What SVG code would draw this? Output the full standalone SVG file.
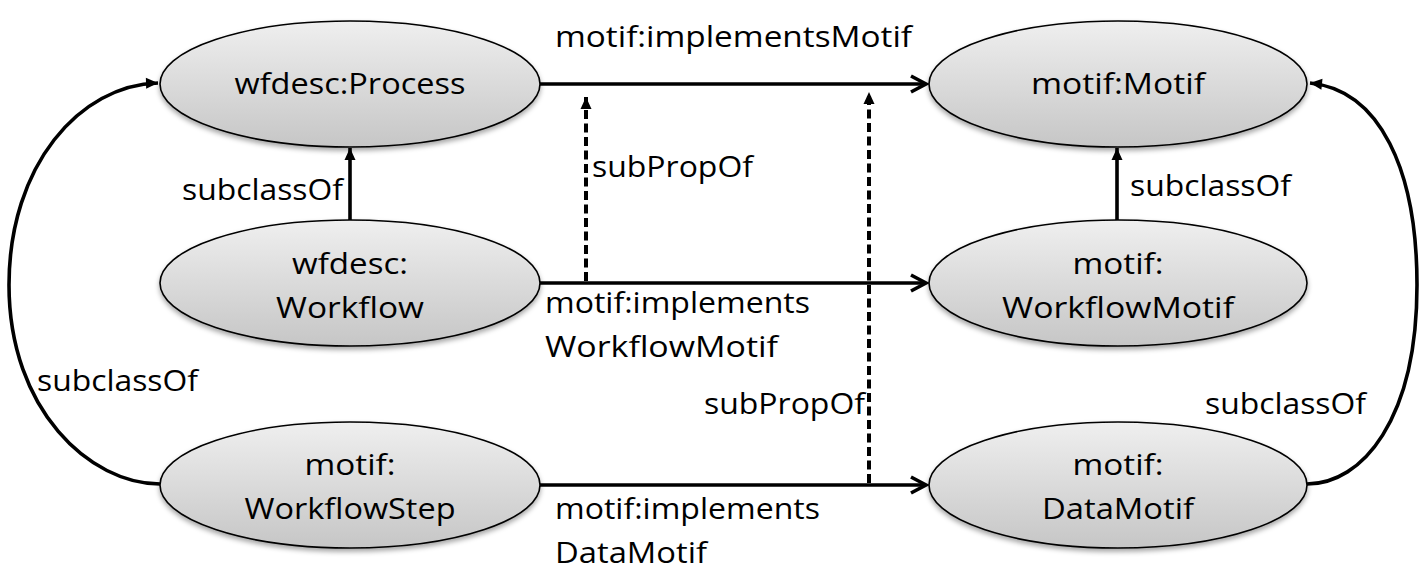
<svg xmlns="http://www.w3.org/2000/svg" width="1424" height="585" viewBox="0 0 1424 585">
<style>
.node ellipse{fill:url(#g);stroke:#000;stroke-width:1.6;filter:url(#sh)}
text{font-family:"Open Sans","Liberation Sans",sans-serif;font-size:30px;fill:#000}
.c{text-anchor:middle}
.e{fill:none;stroke:#000;stroke-width:3.6}
.d{stroke-dasharray:9 4.5;stroke-width:4}
</style>
<defs>
<linearGradient id="g" x1="0" y1="0" x2="0" y2="1">
<stop offset="0" stop-color="#efefef"/>
<stop offset="1" stop-color="#c6c6c6"/>
</linearGradient>
<filter id="sh" x="-10%" y="-10%" width="120%" height="130%">
<feDropShadow dx="0" dy="3" stdDeviation="2.5" flood-color="#000" flood-opacity="0.35"/>
</filter>
<marker id="open" markerUnits="userSpaceOnUse" viewBox="-20 -12 24 24" markerWidth="24" markerHeight="24" refX="0" refY="0" orient="auto">
<path d="M-15,-8 L0,0 L-15,8" fill="none" stroke="#000" stroke-width="3.6"/>
</marker>
<marker id="tri" markerUnits="userSpaceOnUse" viewBox="-14 -8 16 16" markerWidth="16" markerHeight="16" refX="0" refY="0" orient="auto">
<path d="M-12,-5.5 L0,0 L-12,5.5 Z" fill="#000"/>
</marker>
</defs>

<g id="n-process" class="node">
<ellipse cx="350" cy="84" rx="190" ry="63"/>
<text class="c" x="350" y="94" textLength="231" lengthAdjust="spacingAndGlyphs">wfdesc:Process</text>
</g>
<g id="n-workflow" class="node">
<ellipse cx="350" cy="283" rx="190" ry="63"/>
<text class="c" x="350" y="274" textLength="116" lengthAdjust="spacingAndGlyphs">wfdesc:</text>
<text class="c" x="350" y="318" textLength="148" lengthAdjust="spacingAndGlyphs">Workflow</text>
</g>
<g id="n-step" class="node">
<ellipse cx="350" cy="485" rx="190" ry="63"/>
<text class="c" x="350" y="475" textLength="91" lengthAdjust="spacingAndGlyphs">motif:</text>
<text class="c" x="350" y="519" textLength="211" lengthAdjust="spacingAndGlyphs">WorkflowStep</text>
</g>
<g id="n-motif" class="node">
<ellipse cx="1118" cy="84" rx="189" ry="63"/>
<text class="c" x="1118" y="94" textLength="174" lengthAdjust="spacingAndGlyphs">motif:Motif</text>
</g>
<g id="n-wfmotif" class="node">
<ellipse cx="1118" cy="283" rx="189" ry="63"/>
<text class="c" x="1118" y="274" textLength="91" lengthAdjust="spacingAndGlyphs">motif:</text>
<text class="c" x="1118" y="318" textLength="232" lengthAdjust="spacingAndGlyphs">WorkflowMotif</text>
</g>
<g id="n-datamotif" class="node">
<ellipse cx="1118" cy="485" rx="189" ry="63"/>
<text class="c" x="1118" y="475" textLength="91" lengthAdjust="spacingAndGlyphs">motif:</text>
<text class="c" x="1118" y="519" textLength="152" lengthAdjust="spacingAndGlyphs">DataMotif</text>
</g>

<g id="connectors">
<line class="e" x1="540" y1="84" x2="926" y2="84" marker-end="url(#open)"/>
<line class="e" x1="540" y1="283" x2="926" y2="283" marker-end="url(#open)"/>
<line class="e" x1="540" y1="485" x2="926" y2="485" marker-end="url(#open)"/>
<line class="e" x1="350" y1="220" x2="350" y2="148" stroke-width="3.4" marker-end="url(#tri)"/>
<line class="e" x1="1117" y1="220" x2="1117" y2="148" stroke-width="3.4" marker-end="url(#tri)"/>
<line class="e d" x1="586" y1="281" x2="586" y2="97" marker-end="url(#tri)"/>
<line class="e d" x1="869" y1="483" x2="869" y2="92" marker-end="url(#tri)"/>
<path class="e" d="M160,484 C90,484 9,410 9,285 C9,165 80,85 158,83" marker-end="url(#tri)"/>
<path class="e" d="M1307,484 C1362,484 1417,420 1417,285 C1417,170 1380,90 1310,83" marker-end="url(#tri)"/>
<text x="555" y="47" textLength="357" lengthAdjust="spacingAndGlyphs">motif:implementsMotif</text>
<text x="592" y="177" textLength="161" lengthAdjust="spacingAndGlyphs">subPropOf</text>
<text x="182" y="200" textLength="161" lengthAdjust="spacingAndGlyphs">subclassOf</text>
<text x="1130" y="196" textLength="161" lengthAdjust="spacingAndGlyphs">subclassOf</text>
<text x="545" y="313" textLength="265" lengthAdjust="spacingAndGlyphs">motif:implements</text>
<text x="545" y="357" textLength="233" lengthAdjust="spacingAndGlyphs">WorkflowMotif</text>
<text x="37" y="391" textLength="161" lengthAdjust="spacingAndGlyphs">subclassOf</text>
<text x="704" y="414" textLength="161" lengthAdjust="spacingAndGlyphs">subPropOf</text>
<text x="1205" y="414" textLength="161" lengthAdjust="spacingAndGlyphs">subclassOf</text>
<text x="555" y="519" textLength="265" lengthAdjust="spacingAndGlyphs">motif:implements</text>
<text x="555" y="563" textLength="152" lengthAdjust="spacingAndGlyphs">DataMotif</text>
</g>
</svg>
